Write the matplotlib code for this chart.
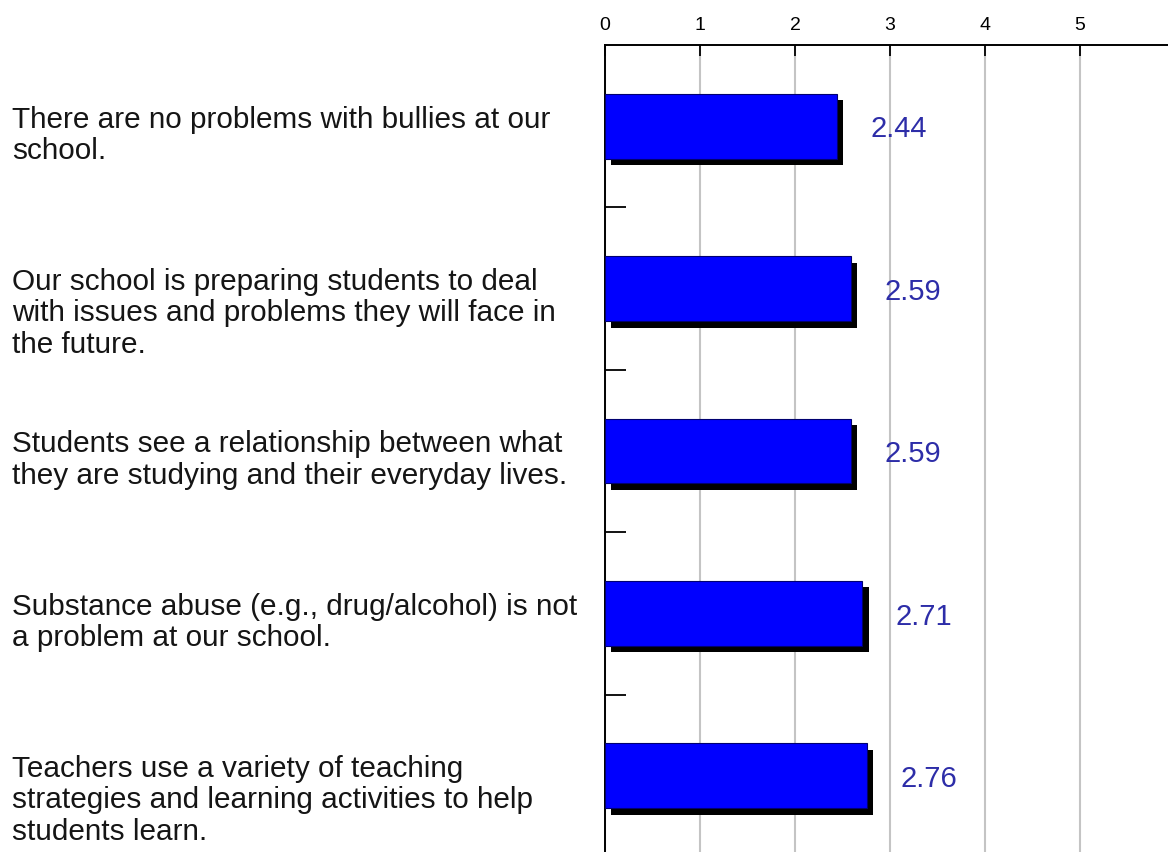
import matplotlib.pyplot as plt
from matplotlib.ticker import FixedLocator

statements = [
    "There are no problems with bullies at our\nschool.",
    "Our school is preparing students to deal\nwith issues and problems they will face in\nthe future.",
    "Students see a relationship between what\nthey are studying and their everyday lives.",
    "Substance abuse (e.g., drug/alcohol) is not\na problem at our school.",
    "Teachers use a variety of teaching\nstrategies and learning activities to help\nstudents learn.",
]
scores = [2.44, 2.59, 2.59, 2.71, 2.76]
x_ticks = [0, 1, 2, 3, 4, 5]

W, H = 1168, 852
fig = plt.figure(figsize=(W / 100, H / 100), dpi=100)
ax = fig.add_axes([605 / W, -5 / H, 563 / W, 812 / H])

pos = list(range(len(scores)))
bar_h = 0.4
# shadow first, then the blue face on top
ax.barh([p + 0.04 for p in pos], scores, height=bar_h, left=0.065,
        color='black', zorder=2)
ax.barh(pos, scores, height=bar_h, color='#0000ff', edgecolor='#000070',
        linewidth=0.8, zorder=3)

for p, v in zip(pos, scores):
    ax.text(v + 0.35, p + 0.02, f'{v:.2f}', color='#2d2da8', fontsize=21,
            va='center', ha='left', family='Liberation Sans', zorder=4)

ax.set_xlim(0, 563 / 95)
ax.set_ylim(len(scores) - 0.5, -0.5)
ax.xaxis.tick_top()
ax.set_xticks(x_ticks)
ax.set_xticklabels([str(t) for t in x_ticks], fontsize=14, family='Liberation Sans',
                   fontweight='medium')
ax.tick_params(axis='x', direction='in', length=8, width=1.3, pad=8)
ax.grid(axis='x', color='#c4c4c4', linewidth=1.5, zorder=0)

ax.set_yticks([])
ax.yaxis.set_minor_locator(FixedLocator([p + 0.5 for p in pos[:-1]]))
ax.tick_params(axis='y', which='minor', direction='in', length=15, width=1.3)

for side in ['right', 'bottom']:
    ax.spines[side].set_visible(False)
for side in ['left', 'top']:
    ax.spines[side].set_linewidth(1.4)

# wrapped statements in the left margin; first line sits level with the bar,
# va='baseline' pins the last line so step back by the line count
line_step = 31
for p, s in zip(pos, statements):
    n_lines = s.count('\n') + 1
    y_px = ax.transData.transform((0, p))[1] - 2 - (n_lines - 1) * line_step
    fig.text(12 / W, y_px / H, s, fontsize=21.4, family='Liberation Sans',
             va='baseline', ha='left', linespacing=1.16, color='#151515')

fig.savefig('out.png', dpi=100)
